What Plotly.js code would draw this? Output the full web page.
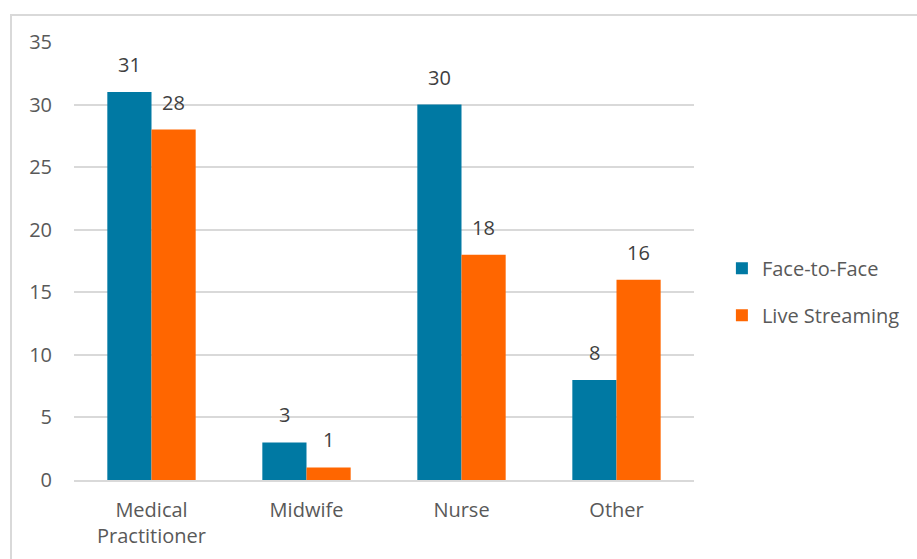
<!DOCTYPE html>
<html>
<head>
<meta charset="utf-8">
<script src="https://cdn.plot.ly/plotly-3.0.1.min.js"></script>
<style>
html,body{margin:0;padding:0;background:#fff;}
#frame{position:absolute;left:10px;top:14px;width:920px;height:560px;border:2px solid #d9d9d9;box-sizing:border-box;}
#chart{position:absolute;left:0;top:0;width:917px;height:559px;}
</style>
</head>
<body>
<div id="frame"></div>
<div id="chart"></div>
<script>
const categories = ["Medical<br>Practitioner", "Midwife", "Nurse", "Other"];
const faceToFace = [31, 3, 30, 8];
const liveStreaming = [28, 1, 18, 16];
const seriesNames = ["Face-to-Face", "Live Streaming"];
const yTicks = [0, 5, 10, 15, 20, 25, 30, 35];

const font = "Open Sans, Liberation Sans, sans-serif";
const traces = [
  {type:"bar", name:seriesNames[0], x:categories, y:faceToFace, marker:{color:"#0079A3"},
   offsetgroup:"a", legendgroup:"a"},
  {type:"bar", name:seriesNames[1], x:categories, y:liveStreaming, marker:{color:"#FF6600"},
   offsetgroup:"b", legendgroup:"b"}
];
// value labels above bars, placed via data coordinates
const annotations = [];
const groupWidth = 1 - 0.43;
[faceToFace, liveStreaming].forEach((vals, s) => {
  const off = (s === 0 ? -1 : 1) * groupWidth / 4;
  vals.forEach((v, i) => {
    annotations.push({x: i + off, y: v, xref:"x", yref:"y", text: String(v), showarrow:false,
      yanchor:"bottom", yshift:12, font:{size:20, color:"#404040", family:font}});
  });
});
const layout = {
  width:917, height:559,
  margin:{l:74, r:220, t:42, b:79},
  paper_bgcolor:"rgba(0,0,0,0)", plot_bgcolor:"rgba(0,0,0,0)",
  font:{family:font, size:20, color:"#595959"},
  barmode:"group", bargap:0.43, bargroupgap:0,
  xaxis:{type:"category", showgrid:false, showline:true, linecolor:"#d9d9d9", linewidth:2, ticks:"",
         ticklabelstandoff:11, tickfont:{size:20,color:"#595959"}},
  yaxis:{range:[0,35], tickvals:yTicks, showgrid:true, gridcolor:"#d9d9d9", gridwidth:1.5, zeroline:false,
         ticks:"", ticklabelstandoff:21, tickfont:{size:20,color:"#595959"}},
  annotations: annotations,
  showlegend:true,
  legend:{x:1.045, xanchor:"left", y:0.43, yanchor:"middle", tracegroupgap:18, itemwidth:30,
          font:{size:20,color:"#595959"}, bgcolor:"rgba(0,0,0,0)"}
};
Plotly.newPlot("chart", traces, layout, {displayModeBar:false});
</script>
</body>
</html>
